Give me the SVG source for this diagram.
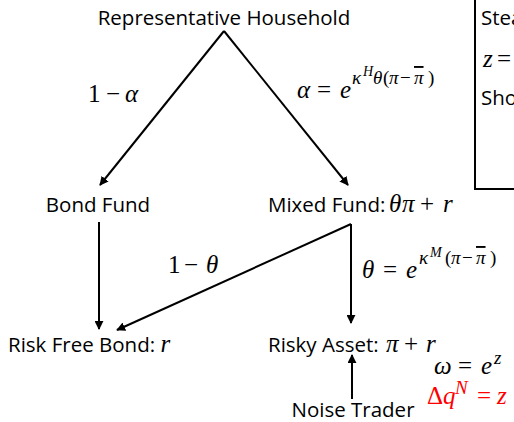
<svg xmlns="http://www.w3.org/2000/svg" width="514" height="422" viewBox="0 0 514 422">
<style>
.t{font-family:"Open Sans","Liberation Sans",sans-serif;font-size:20.5px;fill:#000}
.m{font-family:"Liberation Serif","DejaVu Serif",serif;font-style:italic;font-size:25px;fill:#000}
.u{font-style:normal}
.s{font-size:19px}
.ss{font-size:14px}
.ob{text-decoration:overline}
.red{fill:#ff0000}
.c{stroke:#000;stroke-width:2;fill:none}
</style>
<defs>
<marker id="ah" viewBox="0 0 10 10" refX="9" refY="5" markerWidth="4.5" markerHeight="4.5" orient="auto" markerUnits="strokeWidth">
<path d="M0,0 L10,5 L0,10 z" fill="#000"/>
</marker>
</defs>
<rect x="0" y="0" width="514" height="422" fill="#fff"/>
<g id="box">
<rect x="475" y="-2" width="60" height="191" fill="none" stroke="#000" stroke-width="2"/>
<text class="t" x="481" y="25">Stea</text>
<text class="m" y="67"><tspan x="483">z</tspan><tspan x="497" class="u">=</tspan></text>
<text class="t" x="481" y="105">Sho</text>
</g>
<g id="connectors">
<path class="c" d="M224,31 L100,185" marker-end="url(#ah)"/>
<path class="c" d="M224,31 L348,185" marker-end="url(#ah)"/>
<path class="c" d="M99,222 L99,329" marker-end="url(#ah)"/>
<path class="c" d="M351,224 L351,323" marker-end="url(#ah)"/>
<path class="c" d="M351,224 L117,330" marker-end="url(#ah)"/>
<path class="c" d="M352,399 L352,355" marker-end="url(#ah)"/>
<text class="m" y="102"><tspan x="88" class="u">1</tspan><tspan x="106" class="u">−</tspan><tspan x="125">α</tspan></text>
<text class="m" y="98"><tspan x="297">α</tspan><tspan x="317" class="u">=</tspan><tspan x="340">e</tspan><tspan x="352" y="84" class="s">κ</tspan><tspan x="363" y="76" class="ss">H</tspan><tspan x="373" y="84" class="s">θ</tspan><tspan x="383" class="s u">(</tspan><tspan x="389" class="s">π</tspan><tspan x="400" class="s u">−</tspan><tspan x="414" class="s ob">π</tspan><tspan x="428" class="s u">)</tspan></text>
<text class="m" y="273"><tspan x="168" class="u">1</tspan><tspan x="184" class="u">−</tspan><tspan x="206">θ</tspan></text>
<text class="m" y="278"><tspan x="362">θ</tspan><tspan x="383" class="u">=</tspan><tspan x="406">e</tspan><tspan x="419" y="264" class="s">κ</tspan><tspan x="430" y="257" class="ss">M</tspan><tspan x="445" y="264" class="s u">(</tspan><tspan x="451" class="s">π</tspan><tspan x="462" class="s u">−</tspan><tspan x="476" class="s ob">π</tspan><tspan x="490" class="s u">)</tspan></text>
<text class="m" y="374"><tspan x="434">ω</tspan><tspan x="458" class="u">=</tspan><tspan x="481">e</tspan><tspan x="494" y="364" class="s">z</tspan></text>
<text class="m red" y="404"><tspan x="427" class="u">Δ</tspan><tspan x="443">q</tspan><tspan x="455" y="394" class="s">N</tspan><tspan x="477" y="404" class="u">=</tspan><tspan x="497">z</tspan></text>
</g>
<g id="household"><text class="t" x="224" y="25" text-anchor="middle">Representative Household</text></g>
<g id="bondfund"><text class="t" x="98" y="212" text-anchor="middle">Bond Fund</text></g>
<g id="mixedfund"><text class="t" x="268" y="212">Mixed Fund:</text><text class="m" y="212"><tspan x="389">θ</tspan><tspan x="402">π</tspan><tspan x="420" class="u">+</tspan><tspan x="443">r</tspan></text></g>
<g id="riskfree"><text class="t" x="8" y="352">Risk Free Bond: <tspan class="m">r</tspan></text></g>
<g id="risky"><text class="t" x="268" y="352">Risky Asset:</text><text class="m" y="352"><tspan x="386">π</tspan><tspan x="404" class="u">+</tspan><tspan x="426">r</tspan></text></g>
<g id="noisetrader"><text class="t" x="353" y="417" text-anchor="middle">Noise Trader</text></g>
</svg>
